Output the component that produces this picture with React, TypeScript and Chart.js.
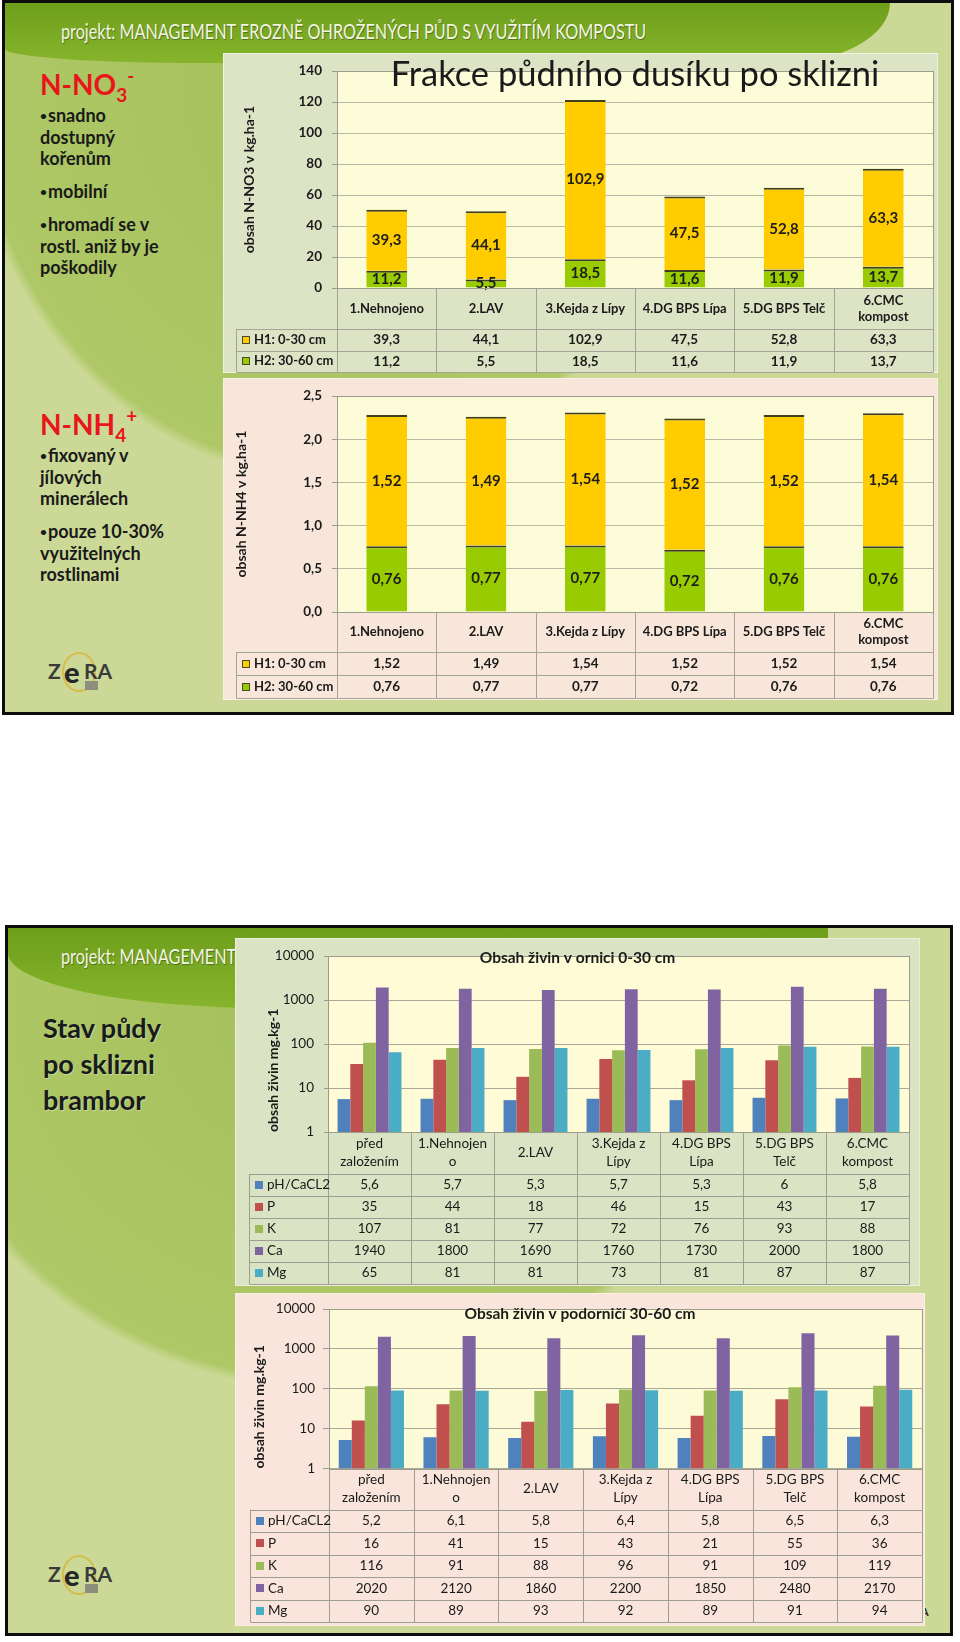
import React, { useEffect, useLayoutEffect, useRef } from "react";
import { Chart, registerables } from "chart.js";

Chart.register(...registerables);
Chart.defaults.font.family = "Lato";

// ---------------- DATA ----------------
const nCategories = ["1.Nehnojeno", "2.LAV", "3.Kejda z Lípy", "4.DG BPS Lípa", "5.DG BPS Telč", "6.CMC kompost"];
const nCategoryLines = [["1.Nehnojeno"], ["2.LAV"], ["3.Kejda z Lípy"], ["4.DG BPS Lípa"], ["5.DG BPS Telč"], ["6.CMC", "kompost"]];
const horizonLabels = ["H1: 0-30 cm", "H2: 30-60 cm"];
const no3H1 = [39.3, 44.1, 102.9, 47.5, 52.8, 63.3];
const no3H2 = [11.2, 5.5, 18.5, 11.6, 11.9, 13.7];
const no3Ticks = [0, 20, 40, 60, 80, 100, 120, 140];
const nh4H1 = [1.52, 1.49, 1.54, 1.52, 1.52, 1.54];
const nh4H2 = [0.76, 0.77, 0.77, 0.72, 0.76, 0.76];
const nh4Ticks = [0, 0.5, 1, 1.5, 2, 2.5];

const soilCategories = ["před založením", "1.Nehnojeno", "2.LAV", "3.Kejda z Lípy", "4.DG BPS Lípa", "5.DG BPS Telč", "6.CMC kompost"];
const soilCategoryLines = [["před", "založením"], ["1.Nehnojen", "o"], ["2.LAV"], ["3.Kejda z", "Lípy"], ["4.DG BPS", "Lípa"], ["5.DG BPS", "Telč"], ["6.CMC", "kompost"]];
const nutrientLabels = ["pH/CaCL2", "P", "K", "Ca", "Mg"];
const topPH = [5.6, 5.7, 5.3, 5.7, 5.3, 6, 5.8];
const topP = [35, 44, 18, 46, 15, 43, 17];
const topK = [107, 81, 77, 72, 76, 93, 88];
const topCa = [1940, 1800, 1690, 1760, 1730, 2000, 1800];
const topMg = [65, 81, 81, 73, 81, 87, 87];
const subPH = [5.2, 6.1, 5.8, 6.4, 5.8, 6.5, 6.3];
const subP = [16, 41, 15, 43, 21, 55, 36];
const subK = [116, 91, 88, 96, 91, 109, 119];
const subCa = [2020, 2120, 1860, 2200, 1850, 2480, 2170];
const subMg = [90, 89, 93, 92, 89, 91, 94];
const logTicks = [1, 10, 100, 1000, 10000];

// ---------------- STYLE ----------------
const TEXT = "#1a1a1a";
const horizonColors = ["#ffcc00", "#99cc00"];
const nutrientColors = ["#4f81bd", "#c0504d", "#9bbb59", "#8064a2", "#4bacc6"];
const fmtComma = (v: number) => String(v).replace(".", ",");

type Row = { label: string; color: string; values: number[] };
type PanelCfg = {
  plotBg: string;
  plotBorder: string;
  lineColor: string;
  textColor: string;
  legendLeft: number;
  catHeight: number;
  rowHeight: number;
  catLines: string[][];
  catFont: string;
  catLineHeight: number;
  rows: Row[];
  cellFont: string;
  legendFont: string;
  fmt: (v: number) => string;
  swatchBorder?: string;
  title?: { text: string; font: string; y: number; center: "plot" | "canvas" };
  labels?: { font: string; color: string };
};

function makePanelPlugin(cfg: PanelCfg) {
  return {
    id: "panelDecor",
    beforeDraw(chart: any) {
      const { ctx, chartArea: a } = chart;
      ctx.save();
      ctx.fillStyle = cfg.plotBg;
      ctx.fillRect(a.left, a.top, a.right - a.left, a.bottom - a.top);
      ctx.restore();
    },
    afterDatasetsDraw(chart: any) {
      if (!cfg.labels) return;
      const { ctx } = chart;
      ctx.save();
      ctx.font = cfg.labels.font;
      ctx.fillStyle = cfg.labels.color;
      ctx.textAlign = "center";
      ctx.textBaseline = "middle";
      chart.data.datasets.forEach((ds: any, i: number) => {
        const meta = chart.getDatasetMeta(i);
        meta.data.forEach((el: any, j: number) => {
          ctx.fillText(cfg.fmt(ds.data[j]), el.x, (el.y + el.base) / 2);
        });
      });
      ctx.restore();
    },
    afterDraw(chart: any) {
      const { ctx, chartArea: a } = chart;
      const xs = chart.scales.x;
      const n = chart.data.labels.length;
      const half = (a.right - a.left) / n / 2;
      const top = a.bottom;
      const catBottom = top + cfg.catHeight;
      const bottom = catBottom + cfg.rows.length * cfg.rowHeight;
      const px = (v: number) => Math.round(v) + 0.5;
      ctx.save();
      ctx.strokeStyle = cfg.lineColor;
      ctx.lineWidth = 1;
      ctx.beginPath();
      for (let i = 0; i < n; i++) {
        const x = px(xs.getPixelForValue(i) - half);
        ctx.moveTo(x, top);
        ctx.lineTo(x, bottom);
      }
      const xr = px(a.right);
      ctx.moveTo(xr, top);
      ctx.lineTo(xr, bottom);
      const xl = px(cfg.legendLeft);
      ctx.moveTo(xl, catBottom);
      ctx.lineTo(xl, bottom);
      for (let r = 0; r <= cfg.rows.length; r++) {
        const y = px(catBottom + r * cfg.rowHeight);
        ctx.moveTo(xl, y);
        ctx.lineTo(xr, y);
      }
      ctx.stroke();
      ctx.strokeStyle = cfg.plotBorder;
      ctx.strokeRect(px(a.left), px(a.top), Math.round(a.right) - Math.round(a.left), Math.round(a.bottom) - Math.round(a.top));

      ctx.fillStyle = cfg.textColor;
      ctx.textAlign = "center";
      ctx.textBaseline = "middle";
      ctx.font = cfg.catFont;
      cfg.catLines.forEach((lines, i) => {
        const cx = xs.getPixelForValue(i);
        lines.forEach((t, k) => {
          ctx.fillText(t, cx, top + cfg.catHeight / 2 + (k - (lines.length - 1) / 2) * cfg.catLineHeight);
        });
      });
      cfg.rows.forEach((row, r) => {
        const cy = catBottom + (r + 0.5) * cfg.rowHeight;
        ctx.font = cfg.cellFont;
        ctx.textAlign = "center";
        ctx.fillStyle = cfg.textColor;
        row.values.forEach((v, i) => ctx.fillText(cfg.fmt(v), xs.getPixelForValue(i), cy));
        ctx.fillStyle = row.color;
        ctx.fillRect(cfg.legendLeft + 6, Math.round(cy) - 4, 8, 8);
        if (cfg.swatchBorder) {
          ctx.strokeStyle = cfg.swatchBorder;
          ctx.strokeRect(cfg.legendLeft + 6.5, Math.round(cy) - 3.5, 7, 7);
        }
        ctx.fillStyle = cfg.textColor;
        ctx.font = cfg.legendFont;
        ctx.textAlign = "left";
        ctx.fillText(row.label, cfg.legendLeft + 18, cy);
      });
      if (cfg.title) {
        ctx.font = cfg.title.font;
        ctx.textAlign = "center";
        ctx.fillStyle = cfg.textColor;
        const cx = cfg.title.center === "plot" ? (a.left + a.right) / 2 : chart.width / 2;
        ctx.fillText(cfg.title.text, cx, cfg.title.y);
      }
      ctx.restore();
    },
  };
}

function nitrogenConfig(p: {
  h1: number[];
  h2: number[];
  ticks: number[];
  max: number;
  tickFmt: (v: number) => string;
  yTitle: string;
  yTitlePad: number;
  pad: { top: number; right: number; bottom: number };
  catHeight: number;
  rowHeight: number;
  title?: PanelCfg["title"];
}) {
  const tableHeight = p.catHeight + 2 * p.rowHeight;
  const cfg: PanelCfg = {
    plotBg: "#fdfcd8",
    plotBorder: "#9c9c8c",
    lineColor: "#a4a496",
    textColor: TEXT,
    legendLeft: 13,
    catHeight: p.catHeight,
    rowHeight: p.rowHeight,
    catLines: nCategoryLines,
    catFont: "bold 13px Lato",
    catLineHeight: 16,
    rows: [
      { label: horizonLabels[0], color: horizonColors[0], values: p.h1 },
      { label: horizonLabels[1], color: horizonColors[1], values: p.h2 },
    ],
    cellFont: "bold 13.5px Lato",
    legendFont: "bold 13px Lato",
    fmt: fmtComma,
    swatchBorder: "#4a4a2a",
    title: p.title,
    labels: { font: "bold 15px Lato", color: "#1e1e1e" },
  };
  const barCommon = {
    borderColor: "#3f3f1c",
    borderWidth: { top: 2, left: 0, right: 0, bottom: 0 },
    borderSkipped: false,
    barPercentage: 0.41,
    categoryPercentage: 1,
  };
  return {
    type: "bar",
    data: {
      labels: nCategories,
      datasets: [
        { label: horizonLabels[1], data: p.h2, backgroundColor: horizonColors[1], ...barCommon },
        { label: horizonLabels[0], data: p.h1, backgroundColor: horizonColors[0], ...barCommon },
      ],
    },
    options: {
      responsive: false,
      animation: false,
      devicePixelRatio: 1,
      layout: { padding: { left: 0, top: p.pad.top, right: p.pad.right, bottom: p.pad.bottom } },
      plugins: { legend: { display: false }, title: { display: false }, tooltip: { enabled: false } },
      scales: {
        x: {
          stacked: true,
          grid: { display: false },
          border: { display: false },
          ticks: { display: false },
          afterFit: (s: any) => {
            s.height = tableHeight;
          },
        },
        y: {
          stacked: true,
          min: 0,
          max: p.max,
          afterBuildTicks: (s: any) => {
            s.ticks = p.ticks.map((v) => ({ value: v }));
          },
          ticks: {
            callback: (v: any) => p.tickFmt(Number(v)),
            color: TEXT,
            font: { size: 13.5, weight: "bold" },
            padding: 10,
          },
          grid: { color: "#b8b8a4", tickColor: "#9c9c8c", tickLength: 5, lineWidth: 1 },
          border: { display: true, color: "#9c9c8c" },
          title: {
            display: true,
            text: p.yTitle,
            color: TEXT,
            font: { size: 14, weight: "bold" },
            padding: { top: p.yTitlePad, bottom: 0 },
          },
          afterFit: (s: any) => {
            s.width = 114;
          },
        },
      },
    },
    plugins: [makePanelPlugin(cfg)],
  };
}

function soilConfig(p: {
  series: number[][];
  title: string;
  yTitlePad: number;
  yWidth: number;
  tickLength: number;
  tickPad: number;
  legendLeft: number;
  pad: { top: number; right: number; bottom: number };
  catHeight: number;
  rowHeight: number;
  titleY: number;
  plotBg: string;
}) {
  const tableHeight = p.catHeight + nutrientLabels.length * p.rowHeight;
  const cfg: PanelCfg = {
    plotBg: p.plotBg,
    plotBorder: "#9c9c8c",
    lineColor: "#9d9d92",
    textColor: TEXT,
    legendLeft: p.legendLeft,
    catHeight: p.catHeight,
    rowHeight: p.rowHeight,
    catLines: soilCategoryLines,
    catFont: "13.5px Lato",
    catLineHeight: 18,
    rows: nutrientLabels.map((l, i) => ({ label: l, color: nutrientColors[i], values: p.series[i] })),
    cellFont: "13.5px Lato",
    legendFont: "13.5px Lato",
    fmt: fmtComma,
    title: { text: p.title, font: "bold 15.5px Lato", y: p.titleY, center: "canvas" },
  };
  return {
    type: "bar",
    data: {
      labels: soilCategories,
      datasets: nutrientLabels.map((l, i) => ({
        label: l,
        data: p.series[i],
        backgroundColor: nutrientColors[i],
        borderWidth: 0,
        barPercentage: 1,
        categoryPercentage: 0.77,
      })),
    },
    options: {
      responsive: false,
      animation: false,
      devicePixelRatio: 1,
      layout: { padding: { left: 0, top: p.pad.top, right: p.pad.right, bottom: p.pad.bottom } },
      plugins: { legend: { display: false }, title: { display: false }, tooltip: { enabled: false } },
      scales: {
        x: {
          grid: { display: false },
          border: { display: false },
          ticks: { display: false },
          afterFit: (s: any) => {
            s.height = tableHeight;
          },
        },
        y: {
          type: "logarithmic",
          min: 1,
          max: 10000,
          afterBuildTicks: (s: any) => {
            s.ticks = logTicks.map((v) => ({ value: v }));
          },
          ticks: {
            callback: (v: any) => String(v),
            color: TEXT,
            font: { size: 13.5 },
            padding: p.tickPad,
          },
          grid: { color: "#a9a99a", tickColor: "#9c9c8c", tickLength: p.tickLength, lineWidth: 1 },
          border: { display: true, color: "#9c9c8c" },
          title: {
            display: true,
            text: "obsah živin mg.kg-1",
            align: "start",
            color: TEXT,
            font: { size: 14, weight: "bold" },
            padding: { top: p.yTitlePad, bottom: 0 },
          },
          afterFit: (s: any) => {
            s.width = p.yWidth;
          },
        },
      },
    },
    plugins: [makePanelPlugin(cfg)],
  };
}

function ChartCanvas({ make, left, top, width, height }: any) {
  const ref = useRef<HTMLCanvasElement>(null);
  useEffect(() => {
    const chart = new Chart(ref.current as HTMLCanvasElement, make());
    return () => chart.destroy();
  }, []);
  return (
    <canvas
      ref={ref}
      width={width}
      height={height}
      style={{ position: "absolute", left, top, width, height }}
    />
  );
}

function FitText({ text, width, style }: any) {
  const ref = useRef<HTMLSpanElement>(null);
  useLayoutEffect(() => {
    const el = ref.current as HTMLSpanElement;
    const w = el.offsetWidth;
    if (w > 0) el.style.transform = `scaleX(${width / w})`;
  }, []);
  return (
    <span
      ref={ref}
      style={{ display: "inline-block", transformOrigin: "0 50%", whiteSpace: "nowrap", ...style }}
    >
      {text}
    </span>
  );
}

const headerText = "projekt: MANAGEMENT EROZNĚ OHROŽENÝCH PŮD S VYUŽITÍM KOMPOSTU";

function Line({ x, y, size, lh, color = TEXT, weight = 700, children, shadow, bullet }: any) {
  return (
    <div
      style={{
        position: "absolute",
        left: x,
        top: y - lh / 2,
        height: lh,
        lineHeight: lh + "px",
        fontSize: size,
        fontWeight: weight,
        color,
        whiteSpace: "nowrap",
        fontFamily: "Lato",
        textShadow: shadow,
      }}
    >
      {bullet ? (
        <span style={{ fontSize: 12, position: "relative", top: -2, marginRight: 1 }}>•</span>
      ) : null}
      {children}
    </div>
  );
}

function Zera({ left, top }: any) {
  return (
    <div style={{ position: "absolute", left, top, width: 68, height: 44, fontFamily: "Lato" }}>
      <div
        style={{
          position: "absolute",
          left: 15,
          top: 3,
          width: 30,
          height: 36,
          border: "2px solid #d8b640",
          borderRadius: "50%",
          opacity: 0.85,
        }}
      />
      <div style={{ position: "absolute", left: 1, top: 9, fontSize: 21, fontWeight: 700, color: "#3a3a3a" }}>Z</div>
      <div style={{ position: "absolute", left: 17, top: 5, fontSize: 29, fontWeight: 900, color: "#262626" }}>e</div>
      <div style={{ position: "absolute", left: 37, top: 9, fontSize: 21, fontWeight: 700, color: "#3a3a3a" }}>RA</div>
      <div style={{ position: "absolute", left: 38, top: 32, width: 13, height: 9, background: "#8e8e7c" }} />
    </div>
  );
}

export default function App() {
  const lh = 21.5;
  return (
    <div
      style={{
        position: "absolute",
        left: 0,
        top: 0,
        width: 960,
        height: 1642,
        background: "#ffffff",
        overflow: "hidden",
        fontFamily: "Lato",
      }}
    >
      {/* ---------- Slide 1 ---------- */}
      <div
        style={{
          position: "absolute",
          left: 2,
          top: 0,
          width: 952,
          height: 715,
          boxSizing: "border-box",
          border: "3px solid #0d0d0d",
          overflow: "hidden",
          background:
            "radial-gradient(ellipse 362px 400px at 325px 77px, #a4c059 0%, #aec867 97%, #ccd996 100%)",
        }}
      >
        <div
          style={{
            position: "absolute",
            left: 0,
            top: 0,
            width: 885,
            height: 60,
            background: "linear-gradient(180deg, #6e9f1b 0%, #86b42c 100%)",
            borderBottomRightRadius: "110px 60px",
            borderBottomLeftRadius: "200px 14px",
          }}
        />
      </div>
      <div style={{ position: "absolute", left: 61, top: 31 - 14, height: 28, lineHeight: "28px" }}>
        <FitText
          text={headerText}
          width={585}
          style={{ fontSize: 22, color: "#f1f5e3", textShadow: "1px 1px 1px rgba(0,0,0,0.35)" }}
        />
      </div>

      <Line x={40} y={84} size={28} lh={34} color="#e8161b">
        N-NO<span style={{ fontSize: 19, position: "relative", top: 7 }}>3</span>
        <span style={{ fontSize: 19, position: "relative", top: -12 }}>-</span>
      </Line>
      <Line x={40} y={116} size={18} lh={lh} bullet>snadno</Line>
      <Line x={40} y={137.5} size={18} lh={lh}>dostupný</Line>
      <Line x={40} y={159} size={18} lh={lh}>kořenům</Line>
      <Line x={40} y={192} size={18} lh={lh} bullet>mobilní</Line>
      <Line x={40} y={225} size={18} lh={lh} bullet>hromadí se v</Line>
      <Line x={40} y={246.5} size={18} lh={lh}>rostl. aniž by je</Line>
      <Line x={40} y={268} size={18} lh={lh}>poškodily</Line>

      <Line x={40} y={424} size={28} lh={34} color="#e8161b">
        N-NH<span style={{ fontSize: 19, position: "relative", top: 7 }}>4</span>
        <span style={{ fontSize: 19, position: "relative", top: -12 }}>+</span>
      </Line>
      <Line x={40} y={456} size={18} lh={lh} bullet>fixovaný v</Line>
      <Line x={40} y={477.5} size={18} lh={lh}>jílových</Line>
      <Line x={40} y={499} size={18} lh={lh}>minerálech</Line>
      <Line x={40} y={532} size={18} lh={lh} bullet>pouze 10-30%</Line>
      <Line x={40} y={553.5} size={18} lh={lh}>využitelných</Line>
      <Line x={40} y={575} size={18} lh={lh}>rostlinami</Line>

      <Zera left={47} top={649} />

      <div
        style={{
          position: "absolute",
          left: 223,
          top: 53,
          width: 715,
          height: 320,
          boxSizing: "border-box",
          background: "#dde4c6",
          border: "1px solid #eef2e0",
        }}
      />
      <ChartCanvas
        left={223}
        top={53}
        width={715}
        height={320}
        make={() =>
          nitrogenConfig({
            h1: no3H1,
            h2: no3H2,
            ticks: no3Ticks,
            max: 140,
            tickFmt: (v) => String(v),
            yTitle: "obsah N-NO3 v kg.ha-1",
            yTitlePad: 17.6,
            pad: { top: 9, right: 5, bottom: 1 },
            catHeight: 41,
            rowHeight: 21.5,
            title: { text: "Frakce půdního dusíku po sklizni", font: "34.5px Lato", y: 22, center: "plot" },
          })
        }
      />

      <div
        style={{
          position: "absolute",
          left: 223,
          top: 378,
          width: 715,
          height: 322,
          boxSizing: "border-box",
          background: "#f8e6da",
          border: "1px solid #fbf0e8",
        }}
      />
      <ChartCanvas
        left={223}
        top={378}
        width={715}
        height={322}
        make={() =>
          nitrogenConfig({
            h1: nh4H1,
            h2: nh4H2,
            ticks: nh4Ticks,
            max: 2.5,
            tickFmt: (v) => v.toFixed(1).replace(".", ","),
            yTitle: "obsah N-NH4 v kg.ha-1",
            yTitlePad: 9.6,
            pad: { top: 12, right: 5, bottom: 2 },
            catHeight: 40,
            rowHeight: 23,
          })
        }
      />

      {/* ---------- Slide 2 ---------- */}
      <div
        style={{
          position: "absolute",
          left: 5,
          top: 925,
          width: 948,
          height: 711,
          boxSizing: "border-box",
          border: "3px solid #0d0d0d",
          overflow: "hidden",
          background:
            "radial-gradient(ellipse 420px 380px at 322px 82px, #a4c059 0%, #aec867 97%, #ccd996 100%)",
        }}
      >
        <div
          style={{
            position: "absolute",
            left: 0,
            top: 0,
            width: 820,
            height: 80,
            background: "linear-gradient(180deg, #6e9f1b 0%, #86b42c 100%)",
            borderBottomRightRadius: "110px 70px",
            borderBottomLeftRadius: "260px 55px",
          }}
        />
      </div>
      <div style={{ position: "absolute", left: 61, top: 956 - 14, height: 28, lineHeight: "28px" }}>
        <FitText
          text={headerText}
          width={585}
          style={{ fontSize: 22, color: "#f1f5e3", textShadow: "1px 1px 1px rgba(0,0,0,0.35)" }}
        />
      </div>

      <Line x={43} y={1028} size={27} lh={36} shadow="1px 1px 1px rgba(255,255,255,0.35)">Stav půdy</Line>
      <Line x={43} y={1064} size={27} lh={36} shadow="1px 1px 1px rgba(255,255,255,0.35)">po sklizni</Line>
      <Line x={43} y={1100} size={27} lh={36} shadow="1px 1px 1px rgba(255,255,255,0.35)">brambor</Line>

      <Zera left={47} top={1552} />
      <Line x={914} y={1612} size={11} lh={14} color="#2a2a2a">VA</Line>

      <div
        style={{
          position: "absolute",
          left: 235,
          top: 938,
          width: 685,
          height: 348,
          boxSizing: "border-box",
          background: "#dae3c4",
          border: "1px solid #ebf0dd",
        }}
      />
      <ChartCanvas
        left={235}
        top={938}
        width={685}
        height={348}
        make={() =>
          soilConfig({
            series: [topPH, topP, topK, topCa, topMg],
            title: "Obsah živin v ornici 0-30 cm",
            yTitlePad: 29.6,
            yWidth: 93,
            tickLength: 4,
            tickPad: 10,
            legendLeft: 14,
            pad: { top: 9, right: 11, bottom: 2 },
            catHeight: 42,
            rowHeight: 22,
            titleY: 20,
            plotBg: "#fefbd6",
          })
        }
      />

      <div
        style={{
          position: "absolute",
          left: 235,
          top: 1293,
          width: 690,
          height: 333,
          boxSizing: "border-box",
          background: "#f9e5dc",
          border: "1px solid #fcefe8",
        }}
      />
      <ChartCanvas
        left={235}
        top={1293}
        width={690}
        height={333}
        make={() =>
          soilConfig({
            series: [subPH, subP, subK, subCa, subMg],
            title: "Obsah živin v podorničí 30-60 cm",
            yTitlePad: 15.6,
            yWidth: 94,
            tickLength: 6,
            tickPad: 8,
            legendLeft: 15,
            pad: { top: 10, right: 3, bottom: 4 },
            catHeight: 41,
            rowHeight: 22.5,
            titleY: 21,
            plotBg: "#fdfbd7",
          })
        }
      />
    </div>
  );
}
